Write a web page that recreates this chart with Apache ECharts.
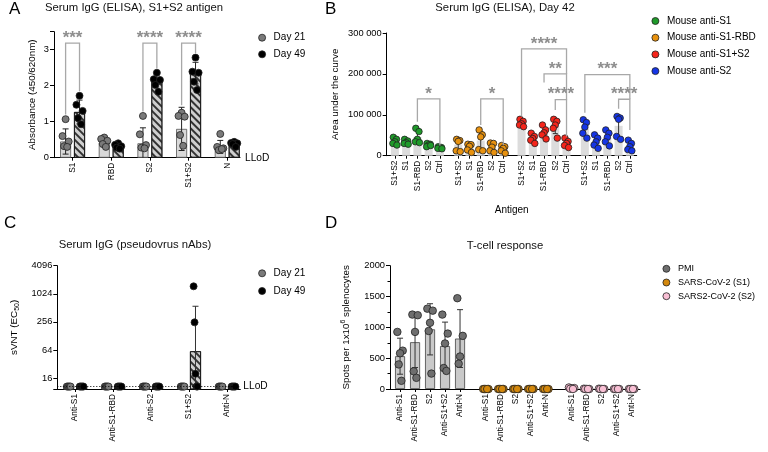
<!DOCTYPE html>
<html><head><meta charset="utf-8">
<script src="https://cdn.jsdelivr.net/npm/echarts@6/dist/echarts.min.js"></script>
<style>html,body{margin:0;padding:0;background:#fff}#c{width:768px;height:452px}</style>
</head><body><div id="c"></div>
<script>
// ================= DATA =================
// Panel A
const aCats = ['S1','RBD','S2','S1+S2','N'];
const aDay21Bar = [0.45,0.42,0.40,0.80,0.30];
const aDay21Sd  = [0.35,0.12,0.43,0.60,0.18];
const aDay49Bar = [1.27,0.30,2.18,2.35,0.40];
const aDay49Sd  = [0.33,0.06,0.14,0.30,0.07];
const aDay21Pts = [[1.07,0.60,0.45,0.32,0.30],[0.56,0.52,0.47,0.38,0.30],[1.16,0.65,0.35,0.28,0.26],[1.25,1.16,1.14,0.63,0.33],[0.66,0.30,0.26,0.21,0.24]];
const aDay49Pts = [[1.72,1.47,1.30,1.10,0.93],[0.40,0.36,0.32,0.28,0.25],[2.36,2.18,2.16,2.02,1.83],[2.78,2.39,2.36,2.11,1.88],[0.44,0.41,0.40,0.38,0.30]];
const aBrackets = [
  {cat:0, top:3.18, leftLeg:1.20, rightLeg:1.85, text:'***'},
  {cat:2, top:3.18, leftLeg:1.28, rightLeg:2.48, text:'****'},
  {cat:3, top:3.18, leftLeg:1.46, rightLeg:2.90, text:'****'}
];
const aYTicks = [0,1,2,3];

// Panel B
const bCats = ['S1+S2','S1','S1-RBD','S2','Ctrl'];
const bGroups = ['Mouse anti-S1','Mouse anti-S1-RBD','Mouse anti-S1+S2','Mouse anti-S2'];
const bBars = [[35000,33000,46000,26000,19000],[27000,20000,37000,20000,17000],[79000,42000,57000,72000,31000],[67000,34000,44000,73000,23000]];
const bSd   = [[7000,5000,15000,4000,2000],[14000,8000,22000,10000,8000],[7000,10000,13000,18000,9000],[19000,13000,15000,26000,10000]];
const bPts = [
  [[45000,40000,34000,30000,26000],[40000,36000,32000,30000,28000],[67000,59000,40000,34000,32000],[30000,28000,26000,22000,25000],[22000,20000,19000,18000,17000]],
  [[40000,37000,35000,12000,10000],[28000,27000,23000,14000,8000],[63000,51000,46000,15000,12000],[31000,30000,21000,12000,8000],[25000,22000,18000,12000,6000]],
  [[89000,84000,78000,75000,71000],[55000,47000,42000,38000,30000],[75000,63000,56000,51000,41000],[89000,84000,75000,67000,43000],[43000,35000,30000,25000,20000]],
  [[88000,81000,70000,55000,43000],[51000,43000,34000,26000,18000],[63000,55000,45000,34000,24000],[96000,92000,89000,47000,40000],[38000,30000,22000,15000,12000]]
];
const bBrackets = [
  {g:0, from:2, to:4, top:139000, leftLeg:83000, rightLeg:25000, text:'*'},
  {g:1, from:2, to:4, top:139000, leftLeg:75000, rightLeg:26000, text:'*'},
  {g:2, from:0, to:4, top:261000, leftLeg:96000, rightLeg:200000, text:'****'},
  {g:2, from:2, to:4, top:200000, leftLeg:179000, rightLeg:137000, text:'**'},
  {g:2, from:3, to:4, top:137000, leftLeg:112000, rightLeg:47000, text:'****'},
  {g:3, from:0, to:4, top:198000, leftLeg:105000, rightLeg:138000, text:'***'},
  {g:3, from:3, to:4, top:138000, leftLeg:115000, rightLeg:63000, text:'****'}
];

// Panel C
const cCats = ['Anti-S1','Anti-S1-RBD','Anti-S2','S1+S2','Anti-N'];
const cLLoD = 10.5;
const cDay21Bar = [10.5,10.5,10.5,10.5,10.5];
const cDay49Bar = [10.5,10.5,10.5,60,10.5];
const cDay49Upper = [null,null,null,553,null];
const cDay21Pts = [[10.5,10.5,10.5,10.5,10.5],[10.5,10.5,10.5,10.5,10.5],[10.5,10.5,10.5,10.5,10.5],[10.5,10.5,10.5,10.5,10.5],[10.5,10.5,10.5,10.5,10.5]];
const cDay49Pts = [[10.5,10.5,10.5,10.5,10.5],[10.5,10.5,10.5,10.5,10.5],[10.5,10.5,10.5,10.5,10.5],[1480,250,19.7,10.5,10.5],[10.5,10.5,10.5,10.5,10.5]];
const cYTicks = [16,64,256,1024,4096];

// Panel D
const dCats = ['Anti-S1','Anti-S1-RBD','S2','Anti-S1+S2','Anti-N'];
const dGroups = ['PMI','SARS-CoV-2 (S1)','SARS2-CoV-2 (S2)'];
const dBars = [[532,759,968,696,818],[0,0,0,0,0],[0,0,0,0,0]];
const dSd   = [[292,411,415,389,469],[0,0,0,0,0],[0,0,0,0,0]];
const dPts = [
  [[926,622,580,399,133],[1207,1197,926,287,181],[1303,1271,1074,941,250],[1207,899,739,340,293],[1473,862,527,410]],
  [[0,0,0,0,0],[0,0,0,0,0],[0,0,0,0,0],[0,0,0,0,0],[0,0,0,0,0]],
  [[25,15,10,5,0],[5,0,0,0,0],[5,0,0,0,0],[0,0,0,0,0],[0,0,0,0,0]]
];

// ================= STYLE / LAYOUT =================
const FONT = '"Liberation Sans", Arial, sans-serif';
const AX = '#000';
const A_OFF = 0.18, C_OFF = 0.17;
const JIT_A = [0,-0.08,0.08,-0.04,0.04];
const JIT_B = [-0.14,0.14,0,-0.18,0.18];
const JIT_C = [-0.05,-0.025,0,0.025,0.05];
const JIT_D = [-0.18,0.18,0,-0.09,0.09];
const bStep = 5.63, dStep = 5.72;
const bColors = ['#1f9a2a','#e8920f','#f5251b','#1535e6'];
const dColors = ['#6e6e6e','#d4880c','#f8bfd4'];
const hatch = {symbol:'rect', symbolSize:1, color:'#333', dashArrayX:[1,0], dashArrayY:[1.8,2.2], rotation:Math.PI/4};

const grids = [
  {left:54, top:31.7, width:186, height:126},
  {left:386.7, top:33, width:250, height:122.7},
  {left:57.3, top:265.7, width:183, height:123.3},
  {left:390, top:265.7, width:250, height:123.3}
];

function xAxisFor(gi, min, max, positions, labels) {
  const map = {};
  positions.forEach((p,i)=>{ map[p.toFixed(3)] = labels[i]; });
  return {type:'value', gridIndex:gi, min:min, max:max, splitLine:{show:false},
    axisLine:{show:true, onZero:false, lineStyle:{color:AX, width:1}},
    axisTick:{show:true, customValues:positions, length:3, lineStyle:{color:AX}},
    axisLabel:{customValues:positions, rotate:90, fontSize:8.3, color:'#000', fontFamily:FONT, margin:5,
      formatter: v => (map[(+v).toFixed(3)] !== undefined ? map[(+v).toFixed(3)] : '')}};
}
function yBase(gi, extra) {
  return Object.assign({gridIndex:gi, splitLine:{show:false},
    axisLine:{show:true, onZero:false, lineStyle:{color:AX, width:1}},
    axisTick:{show:true, length:4, lineStyle:{color:AX}},
    nameLocation:'middle', nameTextStyle:{fontSize:9.8, color:'#000', fontFamily:FONT}}, extra);
}
function yLabel(fmt){ return {fontSize:9.3, color:'#000', fontFamily:FONT, margin:5, formatter:fmt}; }

function errSeries(xi, yi, items, cap, color) {
  // items: [x, low, high]
  return {type:'custom', xAxisIndex:xi, yAxisIndex:yi, z:3, silent:true, clip:false,
    encode:{x:0, y:[1,2]}, data:items,
    renderItem:(params, api) => {
      const cs = params.coordSys;
      const x = api.value(0), lo = api.value(1), hi = api.value(2);
      const pH = api.coord([x, hi]);
      let pL = (lo === null || isNaN(lo) || lo <= 0) ? null : api.coord([x, lo]);
      const bottom = cs.y + cs.height;
      const ch = [];
      const st = {stroke:color, lineWidth:1};
      let yl = pL ? Math.min(pL[1], bottom) : bottom;
      ch.push({type:'line', shape:{x1:pH[0], y1:pH[1], x2:pH[0], y2:yl}, style:st});
      ch.push({type:'line', shape:{x1:pH[0]-cap, y1:pH[1], x2:pH[0]+cap, y2:pH[1]}, style:st});
      if (pL && pL[1] < bottom) ch.push({type:'line', shape:{x1:pL[0]-cap, y1:pL[1], x2:pL[0]+cap, y2:pL[1]}, style:st});
      return {type:'group', children:ch};
    }};
}
function bracketSeries(xi, yi, list, xf) {
  return {type:'custom', xAxisIndex:xi, yAxisIndex:yi, z:6, silent:true, clip:false,
    encode:{x:[0,1], y:[2]},
    data:list.map(b => [xf(b, b.from), xf(b, b.to), b.top, b.leftLeg, b.rightLeg]),
    renderItem:(params, api) => {
      const b = list[params.dataIndex];
      const x1 = api.value(0), x2 = api.value(1);
      const tl = api.coord([x1, api.value(2)]), tr = api.coord([x2, api.value(2)]);
      const l = api.coord([x1, api.value(3)]), r = api.coord([x2, api.value(4)]);
      return {type:'group', children:[
        {type:'polyline', shape:{points:[l, tl, tr, r]}, style:{stroke:'#a8a8a8', lineWidth:1.3, fill:null}},
        {type:'text', x:(tl[0]+tr[0])/2, y:tl[1]-5, style:{text:b.text, fill:'#8e8e8e', font:'bold 17px '+FONT, align:'center', verticalAlign:'middle'}}
      ]};
    }};
}
function pts(arr2d, xf, jit) {
  const out = [];
  arr2d.forEach((vals, i) => vals.forEach((v, k) => out.push([xf(i) + jit[k % jit.length], v])));
  return out;
}
function scatter(xi, yi, name, data, color, size) {
  return {type:'scatter', name:name, xAxisIndex:xi, yAxisIndex:yi, z:4, clip:false, symbolSize:size,
    data:data, itemStyle:{color:color, borderColor:'#222', borderWidth:0.8, opacity:1}};
}

// ---------- positions ----------
const aPos = aCats.map((c,i)=>i);
const bPos = []; const bLab = [];
bGroups.forEach((g,gi)=> bCats.forEach((c,i)=>{ bPos.push(gi*bStep+i); bLab.push(c); }));
const cPos = cCats.map((c,i)=>i);
const dPos = []; const dLab = [];
dGroups.forEach((g,gi)=> dCats.forEach((c,i)=>{ dPos.push(gi*dStep+i); dLab.push(c); }));

const series = [];
// ---- A ----
series.push({type:'bar', xAxisIndex:0, yAxisIndex:0, barWidth:11, barGap:'-100%', z:1,
  data:aDay21Bar.map((v,i)=>[i-A_OFF, v]), itemStyle:{color:'#d9d9d9', borderColor:'#555', borderWidth:0.8}});
series.push({type:'bar', xAxisIndex:0, yAxisIndex:0, barWidth:11, barGap:'-100%', z:1,
  data:aDay49Bar.map((v,i)=>[i+A_OFF, v]), itemStyle:{color:'#cfcfcf', borderColor:'#111', borderWidth:0.8, decal:hatch}});
series.push(errSeries(0,0, aDay21Bar.map((v,i)=>[i-A_OFF, v-aDay21Sd[i], v+aDay21Sd[i]]), 3, '#222'));
series.push(errSeries(0,0, aDay49Bar.map((v,i)=>[i+A_OFF, v-aDay49Sd[i], v+aDay49Sd[i]]), 3, '#222'));
series.push(scatter(0,0,'Day 21', pts(aDay21Pts, i=>i-A_OFF, JIT_A), '#7a7a7a', 7));
series.push(scatter(0,0,'Day 49', pts(aDay49Pts, i=>i+A_OFF, JIT_A), '#000', 7));
series.push(bracketSeries(0,0, aBrackets.map(b=>Object.assign({from:0,to:1},b)), (b,k)=> b.cat + (k===0?-A_OFF:A_OFF)));

// ---- B ----
bGroups.forEach((g,gi)=>{
  series.push({type:'bar', xAxisIndex:1, yAxisIndex:1, barWidth:8, barGap:'-100%', z:1,
    data:bBars[gi].map((v,i)=>[gi*bStep+i, v]), itemStyle:{color:'#dcdcdc'}});
  series.push(errSeries(1,1, bBars[gi].map((v,i)=>[gi*bStep+i, v-bSd[gi][i], v+bSd[gi][i]]), 2.5, '#333'));
  series.push(scatter(1,1, g, pts(bPts[gi], i=>gi*bStep+i, JIT_B), bColors[gi], 6.5));
});
series.push(bracketSeries(1,1, bBrackets, (b,k)=> b.g*bStep + k));

// ---- C ----
series.push({type:'bar', xAxisIndex:2, yAxisIndex:2, barWidth:11, barGap:'-100%', z:1, clip:true,
  data:cDay21Bar.map((v,i)=>[i-C_OFF, v]), itemStyle:{color:'#d9d9d9', borderColor:'#555', borderWidth:0.8},
  markLine:{silent:true, symbol:'none', lineStyle:{color:'#000', type:[1,2], width:1},
    label:{show:true, position:'end', formatter:'LLoD', fontSize:10.2, color:'#000', fontFamily:FONT, distance:3},
    data:[{yAxis:cLLoD}]}});
series.push({type:'bar', xAxisIndex:2, yAxisIndex:2, barWidth:11, barGap:'-100%', z:1, clip:true,
  data:cDay49Bar.map((v,i)=>[i+C_OFF, v]), itemStyle:{color:'#cfcfcf', borderColor:'#111', borderWidth:0.8, decal:hatch}});
series.push(errSeries(2,2, cDay49Upper.map((v,i)=> v===null?null:[i+C_OFF, null, v]).filter(d=>d), 3, '#333'));
series.push(scatter(2,2,'Day 21', pts(cDay21Pts, i=>i-C_OFF, JIT_C), '#7a7a7a', 7));
series.push(scatter(2,2,'Day 49', pts(cDay49Pts, i=>i+C_OFF, JIT_C), '#000', 7));

// ---- D ----
dGroups.forEach((g,gi)=>{
  series.push({type:'bar', xAxisIndex:3, yAxisIndex:3, barWidth:10, barGap:'-100%', z:1,
    data:dBars[gi].map((v,i)=>[gi*dStep+i, v]), itemStyle:{color:'#c9c9c9', borderColor:'#444', borderWidth:0.8}});
  if (gi===0) series.push(errSeries(3,3, dBars[gi].map((v,i)=>[gi*dStep+i, v-dSd[gi][i], v+dSd[gi][i]]), 3, '#333'));
  series.push(scatter(3,3, g, pts(dPts[gi], i=>gi*dStep+i, JIT_D), dColors[gi], 7.5));
});

const legendBase = {orient:'vertical', itemWidth:7, itemHeight:7, icon:'circle', selectedMode:false, padding:0,
  textStyle:{fontSize:10, color:'#000', fontFamily:FONT, lineHeight:12, padding:[0,0,0,3]}};
function legItem(name, color){ return {name:name, icon:'circle', itemStyle:{color:color, borderColor:'#222', borderWidth:0.8}}; }

const option = {
  animation:false,
  backgroundColor:'#fff',
  grid:grids,
  xAxis:[
    xAxisFor(0, -0.48, 4.33, aPos, aCats),
    Object.assign(xAxisFor(1, -0.73, 21.5, bPos, bLab), {name:'Antigen', nameLocation:'middle', nameGap:50, nameTextStyle:{fontSize:10, color:'#000', fontFamily:FONT}}),
    xAxisFor(2, -0.47, 4.35, cPos, cCats),
    xAxisFor(3, -0.67, 16, dPos, dLab)
  ],
  yAxis:[
    yBase(0, {type:'value', min:0, max:3.5, interval:1, name:'Absorbance (450/620nm)', nameGap:17,
      axisLabel:yLabel(v => aYTicks.indexOf(v) >= 0 ? String(v) : '')}),
    yBase(1, {type:'value', min:0, max:300000, interval:100000, name:'Area under the curve', nameGap:46,
      axisLabel:yLabel(v => v===0 ? '0' : (v/1000)+' 000')}),
    yBase(2, {type:'log', logBase:4, min:9.3, max:4096, name:'{a|sVNT (EC}{b|50}{a|)}', nameGap:37,
      nameTextStyle:{fontFamily:FONT, rich:{a:{fontSize:9.8, color:'#000', fontFamily:FONT}, b:{fontSize:7, color:'#000', fontFamily:FONT, padding:[5,0,0,0]}}},
      axisLabel:yLabel(v => cYTicks.some(t => Math.abs(t - v) < 1e-6*t) ? String(Math.round(v)) : '')}),
    yBase(3, {type:'value', min:0, max:2000, interval:500, name:'{a|Spots per 1x10}{b|6}{a| splenocytes}', nameGap:37,
      minorTick:{show:true, splitNumber:2, length:2.5, lineStyle:{color:AX}},
      nameTextStyle:{fontFamily:FONT, rich:{a:{fontSize:9.8, color:'#000', fontFamily:FONT}, b:{fontSize:7, color:'#000', fontFamily:FONT, padding:[0,0,6,0]}}},
      axisLabel:yLabel(v => String(v))})
  ],
  legend:[
    Object.assign({}, legendBase, {left:258.2, top:31.7, itemGap:4.6, data:[legItem('Day 21','#7a7a7a'), legItem('Day 49','#000')]}),
    Object.assign({}, legendBase, {left:651.5, top:15, itemGap:4.7, data:bGroups.map((g,i)=>legItem(g,bColors[i]))}),
    Object.assign({}, legendBase, {left:258.2, top:267.3, itemGap:5.7, data:[legItem('Day 21','#7a7a7a'), legItem('Day 49','#000')]}),
    Object.assign({}, legendBase, {left:662.5, top:263.3, itemGap:2.7, textStyle:Object.assign({}, legendBase.textStyle, {fontSize:9, lineHeight:11}), data:dGroups.map((g,i)=>legItem(g,dColors[i]))})
  ],
  graphic:[
    {type:'text', x:9, y:9, style:{text:'A', font:'17px '+FONT, fill:'#000', align:'left', verticalAlign:'middle'}},
    {type:'text', x:325, y:9, style:{text:'B', font:'17px '+FONT, fill:'#000', align:'left', verticalAlign:'middle'}},
    {type:'text', x:4, y:223, style:{text:'C', font:'17px '+FONT, fill:'#000', align:'left', verticalAlign:'middle'}},
    {type:'text', x:325, y:223, style:{text:'D', font:'17px '+FONT, fill:'#000', align:'left', verticalAlign:'middle'}},
    {type:'text', x:134, y:7.5, style:{text:'Serum IgG (ELISA), S1+S2 antigen', font:'11.3px '+FONT, fill:'#111', align:'center', verticalAlign:'middle'}},
    {type:'text', x:505, y:7.5, style:{text:'Serum IgG (ELISA), Day 42', font:'11.3px '+FONT, fill:'#111', align:'center', verticalAlign:'middle'}},
    {type:'text', x:135, y:245, style:{text:'Serum IgG (pseudovrus nAbs)', font:'11.3px '+FONT, fill:'#111', align:'center', verticalAlign:'middle'}},
    {type:'text', x:505, y:246, style:{text:'T-cell response', font:'11.3px '+FONT, fill:'#111', align:'center', verticalAlign:'middle'}},
    {type:'text', x:245, y:158, style:{text:'LLoD', font:'10.2px '+FONT, fill:'#000', align:'left', verticalAlign:'middle'}}
  ],
  series:series
};
const chart = echarts.init(document.getElementById('c'), null, {renderer:'canvas'});
chart.setOption(option);
</script></body></html>
